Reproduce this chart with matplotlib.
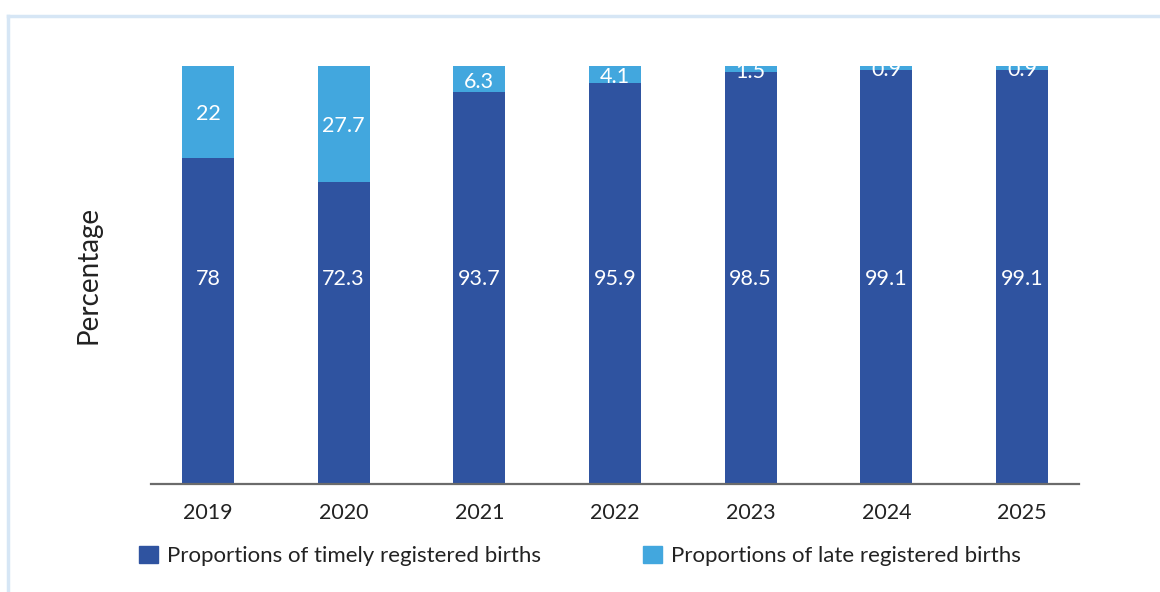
import matplotlib
matplotlib.use("Agg")
import matplotlib.pyplot as plt
from matplotlib.lines import Line2D
from matplotlib.patches import Patch
import numpy as np

plt.rcParams['font.family'] = ['Lato', 'DejaVu Sans']

years = ["2019", "2020", "2021", "2022", "2023", "2024", "2025"]
timely = [78, 72.3, 93.7, 95.9, 98.5, 99.1, 99.1]
late = [22, 27.7, 6.3, 4.1, 1.5, 0.9, 0.9]
series_names = ["Proportions of timely registered births", "Proportions of late registered births"]

c_dark = "#2F53A0"
c_light = "#42A7DE"

fig = plt.figure(figsize=(11.6, 5.92), dpi=100)
ax = fig.add_axes([151/1160, 1-484/592, (1079-151)/1160, (484-66)/592])

x = np.arange(len(years))
w = 0.385
ax.bar(x, timely, width=w, color=c_dark, zorder=2)
ax.bar(x, late, width=w, bottom=timely, color=c_light, zorder=2)

for xi, t, l in zip(x, timely, late):
    ax.text(xi, 49, f"{t:g}", ha="center", va="center", color="white", fontsize=15.5, zorder=3)
    ax.text(xi, t + l / 2 - 0.6, f"{l:g}", ha="center", va="center", color="white", fontsize=15.5, zorder=3)

ax.set_xlim(-0.42, 6.42)
ax.set_ylim(0, 100)
ax.set_xticks(x)
ax.set_xticklabels(years, fontsize=15.5, color="#222222")
ax.tick_params(axis="x", length=0, pad=14)
ax.set_yticks([])
for s in ["top", "right", "left"]:
    ax.spines[s].set_visible(False)
ax.spines["bottom"].set_color("#6b6b6b")
ax.spines["bottom"].set_linewidth(1.6)
ax.set_ylabel("Percentage", fontsize=20, color="#222222", labelpad=36)

handles = [Patch(color=c_dark), Patch(color=c_light)]
fig.legend(handles, series_names, loc="center left", bbox_to_anchor=(119/1160, 1-556/592),
           ncol=2, frameon=False, fontsize=16, handlelength=0.85, handleheight=0.85,
           handletextpad=0.4, columnspacing=4.6, labelcolor="#222222")

# light blue frame
fig.add_artist(Line2D([8/1160, 1], [1-16/592, 1-16/592], color="#D6E6F5", lw=2.5, transform=fig.transFigure))
fig.add_artist(Line2D([8/1160, 8/1160], [1-16/592, 0], color="#D6E6F5", lw=2.5, transform=fig.transFigure))

fig.savefig("out.png", dpi=100)
